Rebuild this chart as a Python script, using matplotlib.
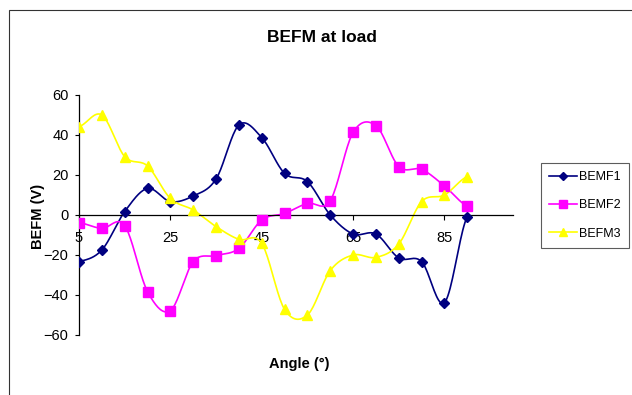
"""
BEFM at load: back-EMF of three phases vs rotor angle.
"""

import numpy as np
import matplotlib.pyplot as plt
from matplotlib.patches import Rectangle

plt.rcParams["font.family"] = ["Liberation Sans", "DejaVu Sans"]

angle = [5, 10, 15, 20, 25, 30, 35, 40, 45, 50, 55, 60, 65, 70, 75, 80, 85, 90]
bemf1 = [-23.3, -17.5, 1.7, 13.3, 6.7, 9.5, 18, 45, 38.7, 20.8, 16.7,
         0, -9.5, -9.5, -21.5, -23.3, -43.8, -0.8]
bemf2 = [-3.8, -6.7, -5.3, -38.3, -47.8, -23.3, -20.3, -16.7, -2.5, 0.8, 5.8,
         7.2, 41.3, 44.7, 24.2, 22.8, 14.5, 4.5]
befm3 = [44.2, 50, 29.2, 24.5, 8.3, 2.5, -5.8, -12.2, -14.2, -47.2, -50,
         -27.8, -20, -21.2, -14.5, 6.7, 10, 19.2]

series = [
    ("BEMF1", bemf1, "#000080", "D", 5),
    ("BEMF2", bemf2, "#FF00FF", "s", 6.5),
    ("BEFM3", befm3, "#FFFF00", "^", 7),
]


def smooth(x, y, n=20):
    """Excel-like smoothed line (cubic Hermite, Catmull-Rom tangents)."""
    x = np.asarray(x, float)
    y = np.asarray(y, float)
    m = np.empty_like(y)
    m[1:-1] = (y[2:] - y[:-2]) / 2
    m[0] = (y[1] - y[0]) / 2
    m[-1] = (y[-1] - y[-2]) / 2
    xs, ys = [], []
    t = np.linspace(0, 1, n, endpoint=False)
    for i in range(len(x) - 1):
        h00 = 2 * t**3 - 3 * t**2 + 1
        h10 = t**3 - 2 * t**2 + t
        h01 = -2 * t**3 + 3 * t**2
        h11 = t**3 - t**2
        xs.append(x[i] + t * (x[i + 1] - x[i]))
        ys.append(h00 * y[i] + h10 * m[i] + h01 * y[i + 1] + h11 * m[i + 1])
    xs.append([x[-1]])
    ys.append([y[-1]])
    return np.concatenate(xs), np.concatenate(ys)


W, H = 632, 395
fig = plt.figure(figsize=(W / 100, H / 100), dpi=100)
ax = fig.add_axes([79 / W, 1 - 335 / H, (513 - 79) / W, 240 / H])

for label, vals, color, marker, ms in series:
    xs, ys = smooth(angle, vals)
    ax.plot(xs, ys, color=color, lw=1.2, zorder=2)
    ax.plot(angle, vals, ls="none", marker=marker, ms=ms, color=color,
            zorder=3)
    # legend proxy
    ax.plot([], [], color=color, lw=1.2, marker=marker, ms=ms * 0.8,
            label=label)

ax.set_xlim(5, 100)
ax.set_ylim(-60, 60)
ax.set_xticks([5, 25, 45, 65, 85])
ax.set_yticks(range(-60, 61, 20))

ax.spines["top"].set_visible(False)
ax.spines["right"].set_visible(False)
ax.spines["bottom"].set_position(("data", 0))
ax.spines["bottom"].set_linewidth(0.9)
ax.spines["left"].set_linewidth(0.9)
ax.tick_params(axis="x", direction="out", length=3.6, width=0.8,
               pad=8, labelsize=10.5)
ax.tick_params(axis="y", direction="out", length=3, width=0.8,
               pad=4.5, labelsize=10.5)
ax.set_facecolor("none")

fig.text(322 / W, 1 - 37 / H, "BEFM at load", ha="center", va="center",
         fontsize=12.5, fontweight="bold")
fig.text(299 / W, 1 - 364 / H, "Angle (°)", ha="center", va="center",
         fontsize=10.5, fontweight="bold")
fig.text(38 / W, 1 - 216 / H, "BEFM (V)", ha="center", va="center",
         rotation=90, fontsize=10.5, fontweight="bold")

leg = fig.legend(loc="upper left", bbox_to_anchor=(541 / W, 1 - 163 / H),
                 fontsize=9, frameon=True, fancybox=False,
                 handlelength=2.2, labelspacing=1.3, borderpad=0.65,
                 handletextpad=0.2, borderaxespad=0)
leg.get_frame().set_edgecolor("#333333")
leg.get_frame().set_linewidth(0.8)

# chart area border (right and bottom edges fall outside the image)
fig.add_artist(Rectangle((9 / W, -0.2), 1.0, 1.2 - 9.5 / H,
                         transform=fig.transFigure, fill=False,
                         edgecolor="#333333", lw=0.8))

fig.savefig("out.png", dpi=100)
